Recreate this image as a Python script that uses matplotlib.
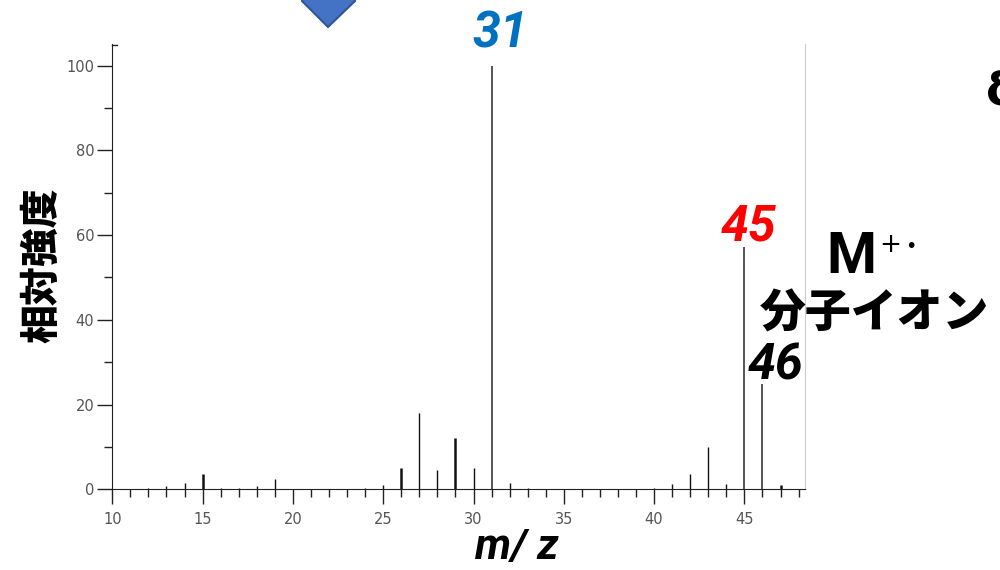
import matplotlib
matplotlib.use('Agg')
import matplotlib.pyplot as plt
from matplotlib.patches import Polygon
from matplotlib.ticker import MultipleLocator, FixedLocator
from matplotlib import font_manager

# ---- data ----
mz = [12, 13, 14, 15, 16, 17, 18, 19, 24, 25, 26, 27, 28, 29, 30, 31, 32, 33,
      40, 41, 42, 43, 44, 45, 46, 47]
intensity = [0.4, 0.7, 1.5, 3.7, 0.4, 0.4, 0.7, 2.5, 0.4, 0.9, 5.0, 17.9, 4.5, 12.1,
             5.0, 100.0, 1.5, 0.4, 0.4, 1.2, 3.7, 9.9, 1.2, 57.3, 24.8, 0.9]
x_ticks = [10, 15, 20, 25, 30, 35, 40, 45]
y_ticks = [0, 20, 40, 60, 80, 100]
xlabel = "m/ z"
ylabel = "相対強度"
peak_base = "31"
peak_mol = "45"
peak_iso = "46"
mol_text = "分子イオン"

# style per bar (thickness)
thick = {15, 26, 29, 47}
major = {31, 45, 46}
lws = [1.8 if m in thick else (1.4 if m in major else 1.0) for m in mz]
cols = ['#555555' if m in major else '#111111' for m in mz]

names = {f.name for f in font_manager.fontManager.ttflist}
NUM_FONT = 'Liberation Sans Narrow' if 'Liberation Sans Narrow' in names else 'Roboto'
JP = ['Noto Sans CJK JP', 'DejaVu Sans']

W, H = 1000, 570
fig = plt.figure(figsize=(W / 100, H / 100), dpi=100)
fig.patch.set_facecolor('white')

def fx(px):
    return px / W

def fy(py):
    return 1 - py / H

x0, x1 = 112.3, 805.0
ybase, ytop = 489.3, 44.5
ax = fig.add_axes([fx(x0), fy(ybase), (x1 - x0) / W, (ybase - ytop) / H])
ax.vlines(mz, 0, intensity, colors=cols, linewidths=lws)
ax.set_xlim(10, 10 + (x1 - x0) / 18.06)
ax.set_ylim(0, 105)

ax.spines['top'].set_visible(False)
ax.spines['right'].set_color('#cccccc')
ax.spines['left'].set_color('#222222')
ax.spines['bottom'].set_color('#222222')
ax.plot([0, 0.007], [1, 1], transform=ax.transAxes, color='#222222', lw=1, clip_on=False)

ax.xaxis.set_major_locator(FixedLocator(x_ticks))
ax.xaxis.set_minor_locator(MultipleLocator(1))
ax.yaxis.set_major_locator(FixedLocator(y_ticks))
ax.yaxis.set_minor_locator(MultipleLocator(10))
ax.tick_params(axis='both', which='major', direction='out', length=11, width=1,
               color='#222222', labelcolor='#555555', labelsize=10.5)
ax.tick_params(axis='both', which='minor', direction='out', length=6, width=1,
               color='#222222')
ax.tick_params(axis='x', which='major', pad=5)
ax.tick_params(axis='y', which='major', pad=2)

# axis labels
fig.text(fx(517), fy(547), xlabel, family=[NUM_FONT, 'DejaVu Sans'], weight='bold',
         style='italic', fontsize=31, ha='center', va='center', color='black')
fig.text(fx(42), fy(265), ylabel, family=JP, weight='heavy', fontsize=28,
         rotation=90, ha='center', va='center', color='black')

# peak annotations
fig.text(fx(500), fy(34), peak_base, family=[NUM_FONT, 'DejaVu Sans'], weight='bold',
         style='italic', fontsize=36, ha='center', va='center', color='#0070C0')
fig.text(fx(748), fy(227), peak_mol, family=[NUM_FONT, 'DejaVu Sans'], weight='bold',
         style='italic', fontsize=36, ha='center', va='center', color='#FF0000')
fig.text(fx(775), fy(366), peak_iso, family=[NUM_FONT, 'DejaVu Sans'], weight='bold',
         style='italic', fontsize=36, ha='center', va='center', color='black')
fig.text(fx(851), fy(257), "M", family=[NUM_FONT, 'DejaVu Sans'], weight='bold',
         fontsize=41, ha='center', va='center', color='black')
fig.text(fx(890), fy(245), "+", family=['DejaVu Sans'], fontsize=19,
         ha='center', va='center', color='black')
fig.text(fx(911), fy(246), "•", family=['DejaVu Sans'], fontsize=14,
         ha='center', va='center', color='black')
fig.text(fx(874), fy(314), mol_text, family=JP, weight='heavy', fontsize=33,
         ha='center', va='center', color='black')
fig.text(fx(986), fy(92), "δ", family=['DejaVu Sans'], weight='bold', fontsize=34,
         ha='left', va='center', color='black')

# blue arrow head (cut at top)
arrow = Polygon([(fx(302), fy(-6)), (fx(302), fy(1)), (fx(328), fy(27)),
                 (fx(355), fy(1)), (fx(355), fy(-6))],
                closed=True, transform=fig.transFigure, facecolor='#4472C4',
                edgecolor='#2F5597', linewidth=1.5)
fig.patches.append(arrow)

fig.savefig('out.png', dpi=100)
